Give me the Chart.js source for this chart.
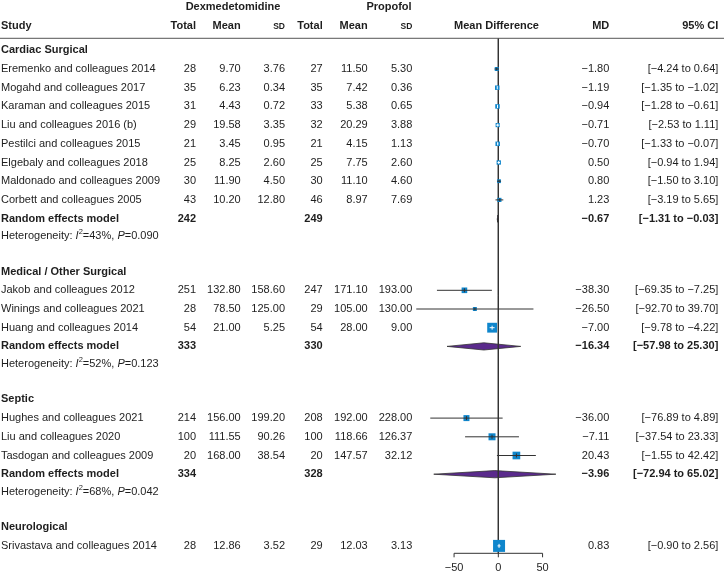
<!DOCTYPE html>
<html>
<head>
<meta charset="utf-8">
<script src="https://cdn.jsdelivr.net/npm/chart.js@4.4.1/dist/chart.umd.min.js"></script>
<style>
  html, body { margin: 0; padding: 0; background: #fff; }
  #wrap { width: 724px; height: 576px; position: relative; }
</style>
</head>
<body>
<div id="wrap"><canvas id="forestChart"></canvas></div>
<script>

// ---- data ----
const groups = ["Cardiac Surgical", "Medical / Other Surgical", "Septic", "Neurological"];

const studies = [
    "Eremenko and colleagues 2014",
    "Mogahd and colleagues 2017",
    "Karaman and colleagues 2015",
    "Liu and colleagues 2016 (b)",
    "Pestilci and colleagues 2015",
    "Elgebaly and colleagues 2018",
    "Maldonado and colleagues 2009",
    "Corbett and colleagues 2005",
    "Jakob and colleagues 2012",
    "Winings and colleagues 2021",
    "Huang and colleagues 2014",
    "Hughes and colleagues 2021",
    "Liu and colleagues 2020",
    "Tasdogan and colleagues 2009",
    "Srivastava and colleagues 2014"
];
const studyGroup = [0, 0, 0, 0, 0, 0, 0, 0, 1, 1, 1, 2, 2, 2, 3];

const dexTotal = [28, 35, 31, 29, 21, 25, 30, 43, 251, 28, 54, 214, 100, 20, 28];
const dexMean = [9.70, 6.23, 4.43, 19.58, 3.45, 8.25, 11.90, 10.20, 132.80, 78.50, 21.00, 156.00, 111.55, 168.00, 12.86];
const dexSD = [3.76, 0.34, 0.72, 3.35, 0.95, 2.60, 4.50, 12.80, 158.60, 125.00, 5.25, 199.20, 90.26, 38.54, 3.52];

const propTotal = [27, 35, 33, 32, 21, 25, 30, 46, 247, 29, 54, 208, 100, 20, 29];
const propMean = [11.50, 7.42, 5.38, 20.29, 4.15, 7.75, 11.10, 8.97, 171.10, 105.00, 28.00, 192.00, 118.66, 147.57, 12.03];
const propSD = [5.30, 0.36, 0.65, 3.88, 1.13, 2.60, 4.60, 7.69, 193.00, 130.00, 9.00, 228.00, 126.37, 32.12, 3.13];

const md = [-1.80, -1.19, -0.94, -0.71, -0.70, 0.50, 0.80, 1.23, -38.30, -26.50, -7.00, -36.00, -7.11, 20.43, 0.83];
const ciLow = [-4.24, -1.35, -1.28, -2.53, -1.33, -0.94, -1.50, -3.19, -69.35, -92.70, -9.78, -76.89, -37.54, -1.55, -0.90];
const ciHigh = [0.64, -1.02, -0.61, 1.11, -0.07, 1.94, 3.10, 5.65, -7.25, 39.70, -4.22, 4.89, 23.33, 42.42, 2.56];
// estimated relative weight within subgroup (%), drives the box area
const weight = [11, 14, 14, 12, 14, 13, 10, 12, 22, 11, 67, 25, 34, 41, 100];

// random effects model, one per subgroup with more than one study
const pooledDex = [242, 333, 334];
const pooledProp = [249, 330, 328];
const pooledMD = [-0.67, -16.34, -3.96];
const pooledLow = [-1.31, -57.98, -72.94];
const pooledHigh = [-0.03, 25.30, 65.02];
const hetI2 = [43, 52, 68];
const hetP = ["0.090", "0.123", "0.042"];

const xTicks = [-50, 0, 50];

// ---- layout ----
const W = 724, H = 576;
const X_MIN = -563.05, X_MAX = 255.0;
const PX_PER_UNIT = W / (X_MAX - X_MIN);
const ROW = 18.7, HET_STEP = 17.5, GROUP_GAP = 35.5, FIRST_Y = 50.3;
const HEAD1_Y = 6.5, HEAD2_Y = 26.3, RULE_Y = 38.3, AXIS_Y = 553.3;
const DIAMOND_H = 3.6;

const FONT = '"Liberation Sans", Arial, Helvetica, sans-serif';
const TEXT = "#1e1e1e";
const BOX = "#0f86cc";
const DIAMOND = "#5a2a8c";

const col = {
    study: 1, dexTotal: 196, dexMean: 240.7, dexSD: 285,
    propTotal: 322.7, propMean: 367.7, propSD: 412.3,
    md: 609.3, ci: 718.3
};

const rows = [];
const studyY = [];
const pooledY = [];
let yPos = FIRST_Y;
groups.forEach((g, gi) => {
    rows.push({ type: "group", gi: gi, y: yPos });
    studies.forEach((s, si) => {
        if (studyGroup[si] === gi) {
            yPos += ROW;
            studyY[si] = yPos;
            rows.push({ type: "study", si: si, y: yPos });
        }
    });
    if (gi < pooledMD.length) {
        yPos += ROW;
        pooledY[gi] = yPos;
        rows.push({ type: "pooled", gi: gi, y: yPos });
        yPos += HET_STEP;
        rows.push({ type: "het", gi: gi, y: yPos });
    }
    yPos += GROUP_GAP;
});

function boxSide(w) {
    return 1.2 * Math.sqrt(w);
}

function ciFitsInBox(i) {
    return (ciHigh[i] - ciLow[i]) * PX_PER_UNIT <= boxSide(weight[i]);
}

function num(v, d) {
    const s = Math.abs(v).toFixed(d);
    return v < 0 ? "\u2212" + s : s;
}

// ---- datasets ----
const datasets = [];

pooledMD.forEach((m, gi) => {
    datasets.push({
        data: [
            { x: pooledLow[gi], y: pooledY[gi] },
            { x: m, y: pooledY[gi] - DIAMOND_H },
            { x: pooledHigh[gi], y: pooledY[gi] }
        ],
        showLine: true, pointRadius: 0, borderColor: "#333", borderWidth: 0.8,
        fill: false, order: 10
    });
    datasets.push({
        data: [
            { x: pooledLow[gi], y: pooledY[gi] },
            { x: m, y: pooledY[gi] + DIAMOND_H },
            { x: pooledHigh[gi], y: pooledY[gi] }
        ],
        showLine: true, pointRadius: 0, borderColor: "#333", borderWidth: 0.8,
        fill: "-1", backgroundColor: DIAMOND, order: 10
    });
});

// line of no effect
datasets.push({
    data: [{ x: 0, y: RULE_Y }, { x: 0, y: AXIS_Y }],
    showLine: true, pointRadius: 0, borderColor: "#333", borderWidth: 1, order: 9
});

// study boxes
datasets.push({
    data: md.map((v, i) => ({ x: v, y: studyY[i], w: weight[i] })),
    pointStyle: "rect",
    pointRadius: c => boxSide(c.raw.w) / Math.SQRT2,
    backgroundColor: BOX, borderWidth: 0, order: 8
});

// confidence intervals
md.forEach((v, i) => {
    datasets.push({
        data: [{ x: ciLow[i], y: studyY[i] }, { x: ciHigh[i], y: studyY[i] }],
        showLine: true, pointRadius: 0,
        borderColor: ciFitsInBox(i) ? "#ffffff" : "#333333",
        borderWidth: 1, order: 7
    });
});

// tick at the point estimate
datasets.push({
    data: md.map((v, i) => ({ x: v, y: studyY[i], w: weight[i], i: i })),
    pointStyle: "line", rotation: 90,
    pointRadius: c => Math.min(2, boxSide(c.raw.w) / 2 - 0.6),
    borderColor: c => ciFitsInBox(c.raw.i) ? "#ffffff" : "#333333",
    borderWidth: 1, order: 6
});

// ---- table text, rule and axis ----
const tablePlugin = {
    id: "tableText",
    afterDraw(chart) {
        const ctx = chart.ctx;
        const ys = chart.scales.y;
        const xs = chart.scales.x;

        ctx.save();
        ctx.fillStyle = TEXT;
        ctx.textBaseline = "middle";

        function txt(s, x, y, align, style, size) {
            ctx.font = `${style || ""} ${size || 11}px ${FONT}`;
            ctx.textAlign = align;
            ctx.fillText(s, x, y);
        }

        // headers
        txt("Dexmedetomidine", 233, HEAD1_Y, "center", "bold");
        txt("Propofol", 389, HEAD1_Y, "center", "bold");
        txt("Study", col.study, HEAD2_Y, "left", "bold");
        txt("Total", col.dexTotal, HEAD2_Y, "right", "bold");
        txt("Mean", col.dexMean, HEAD2_Y, "right", "bold");
        txt("SD", col.dexSD, HEAD2_Y + 0.5, "right", "bold", 8.5);
        txt("Total", col.propTotal, HEAD2_Y, "right", "bold");
        txt("Mean", col.propMean, HEAD2_Y, "right", "bold");
        txt("SD", col.propSD, HEAD2_Y + 0.5, "right", "bold", 8.5);
        txt("Mean Difference", 496.5, HEAD2_Y, "center", "bold");
        txt("MD", col.md, HEAD2_Y, "right", "bold");
        txt("95% CI", col.ci, HEAD2_Y, "right", "bold");

        ctx.strokeStyle = "#555";
        ctx.lineWidth = 1;
        ctx.beginPath();
        ctx.moveTo(0, RULE_Y);
        ctx.lineTo(W, RULE_Y);
        ctx.stroke();

        rows.forEach(r => {
            const y = ys.getPixelForValue(r.y);
            if (r.type === "group") {
                txt(groups[r.gi], col.study, y, "left", "bold");
            } else if (r.type === "study") {
                const i = r.si;
                txt(studies[i], col.study, y, "left");
                txt(String(dexTotal[i]), col.dexTotal, y, "right");
                txt(num(dexMean[i], 2), col.dexMean, y, "right");
                txt(num(dexSD[i], 2), col.dexSD, y, "right");
                txt(String(propTotal[i]), col.propTotal, y, "right");
                txt(num(propMean[i], 2), col.propMean, y, "right");
                txt(num(propSD[i], 2), col.propSD, y, "right");
                txt(num(md[i], 2), col.md, y, "right");
                txt("[" + num(ciLow[i], 2) + " to " + num(ciHigh[i], 2) + "]", col.ci, y, "right");
            } else if (r.type === "pooled") {
                const g = r.gi;
                txt("Random effects model", col.study, y, "left", "bold");
                txt(String(pooledDex[g]), col.dexTotal, y, "right", "bold");
                txt(String(pooledProp[g]), col.propTotal, y, "right", "bold");
                txt(num(pooledMD[g], 2), col.md, y, "right", "bold");
                txt("[" + num(pooledLow[g], 2) + " to " + num(pooledHigh[g], 2) + "]", col.ci, y, "right", "bold");
            } else if (r.type === "het") {
                const parts = [
                    ["Heterogeneity: ", "", 11, 0],
                    ["I", "italic", 11, 0],
                    ["2", "", 7.5, -4],
                    ["=" + hetI2[r.gi] + "%, ", "", 11, 0],
                    ["P", "italic", 11, 0],
                    ["=" + hetP[r.gi], "", 11, 0]
                ];
                let x = col.study;
                parts.forEach(p => {
                    ctx.font = `${p[1]} ${p[2]}px ${FONT}`;
                    ctx.textAlign = "left";
                    ctx.fillText(p[0], x, y + p[3]);
                    x += ctx.measureText(p[0]).width;
                });
            }
        });

        // x axis, only over the tick range
        const ay = ys.getPixelForValue(AXIS_Y);
        const x0 = xs.getPixelForValue(xTicks[0]);
        const x1 = xs.getPixelForValue(xTicks[xTicks.length - 1]);
        ctx.strokeStyle = "#333";
        ctx.beginPath();
        ctx.moveTo(x0, ay);
        ctx.lineTo(x1, ay);
        xTicks.forEach(t => {
            const px = xs.getPixelForValue(t);
            ctx.moveTo(px, ay);
            ctx.lineTo(px, ay + 4);
        });
        ctx.stroke();
        xTicks.forEach(t => {
            txt(num(t, 0), xs.getPixelForValue(t), ay + 14.5, "center", "", 11);
        });

        ctx.restore();
    }
};

new Chart(document.getElementById("forestChart"), {
    type: "scatter",
    data: { datasets: datasets },
    options: {
        responsive: true,
        maintainAspectRatio: false,
        animation: false,
        events: [],
        layout: { padding: 0, autoPadding: false },
        plugins: {
            legend: { display: false },
            tooltip: { enabled: false },
            title: { display: false }
        },
        scales: {
            x: { type: "linear", min: X_MIN, max: X_MAX, display: false },
            y: { type: "linear", min: 0, max: H, reverse: true, display: false }
        }
    },
    plugins: [tablePlugin]
});
</script>
</body>
</html>
